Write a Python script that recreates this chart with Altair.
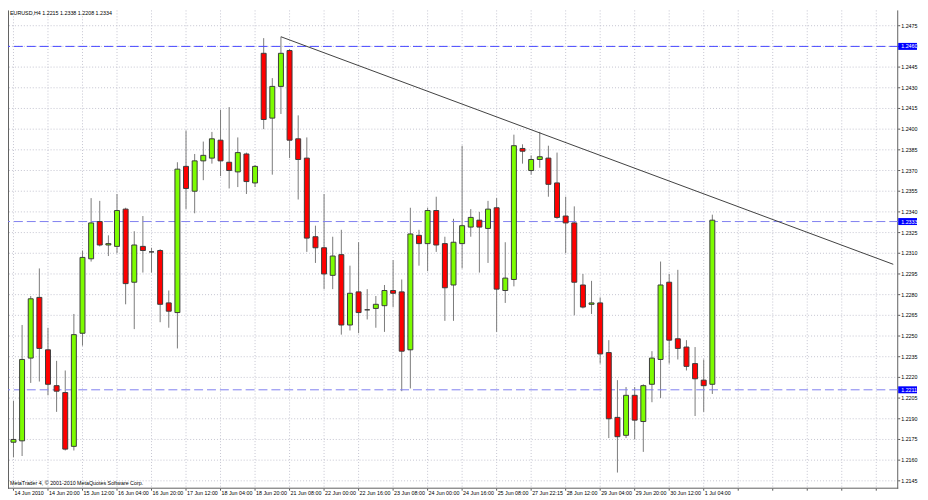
import altair as alt
import pandas as pd

# ---- data (EURUSD H4) ----
opens = [1.2173, 1.2174, 1.2234, 1.2278, 1.2240, 1.2214, 1.2209, 1.2170, 1.2252, 1.2306,
         1.2333, 1.2316, 1.2315, 1.2342, 1.2289, 1.2315, 1.2311, 1.2312, 1.2274, 1.2267,
         1.2373, 1.2355, 1.2377, 1.2379, 1.2392, 1.2376, 1.2369, 1.2382, 1.2361, 1.2455,
         1.2408, 1.2431, 1.2457, 1.2393, 1.2379, 1.2322, 1.2314, 1.2294, 1.2309, 1.2258,
         1.2282, 1.2269, 1.2270, 1.2272, 1.2283, 1.2282, 1.2240, 1.2323, 1.2317, 1.2341,
         1.2317, 1.2287, 1.2317, 1.2329, 1.2334, 1.2328, 1.2343, 1.2283, 1.2291, 1.2386,
         1.2370, 1.2378, 1.2379, 1.2361, 1.2337, 1.2332, 1.2287, 1.2273, 1.2274, 1.2238,
         1.2191, 1.2178, 1.2207, 1.2188, 1.2215, 1.2233, 1.2289, 1.2248, 1.2242, 1.2230,
         1.2218, 1.2215]
highs = [1.2203, 1.2258, 1.2279, 1.2299, 1.2256, 1.2232, 1.2225, 1.2266, 1.2312, 1.2350,
         1.2348, 1.2323, 1.2353, 1.2343, 1.2326, 1.2337, 1.2314, 1.2313, 1.2283, 1.2376,
         1.2399, 1.2382, 1.2391, 1.2398, 1.2414, 1.2416, 1.2394, 1.2383, 1.2374, 1.2466,
         1.2437, 1.2467, 1.2458, 1.2410, 1.2394, 1.2330, 1.2353, 1.2322, 1.2327, 1.2301,
         1.2318, 1.2284, 1.2279, 1.2287, 1.2305, 1.2291, 1.2343, 1.2327, 1.2343, 1.2351,
         1.2322, 1.2335, 1.2388, 1.2342, 1.2340, 1.2348, 1.2350, 1.2318, 1.2396, 1.2389,
         1.2381, 1.2398, 1.2388, 1.2383, 1.2351, 1.2344, 1.2295, 1.2290, 1.2278, 1.2247,
         1.2218, 1.2213, 1.2213, 1.2215, 1.2239, 1.2304, 1.2295, 1.2298, 1.2247, 1.2242,
         1.2233, 1.2338]
lows = [1.2162, 1.2163, 1.2216, 1.2217, 1.2207, 1.2195, 1.2167, 1.2167, 1.2243, 1.2304,
        1.2315, 1.2308, 1.2310, 1.2273, 1.2255, 1.2296, 1.2296, 1.2260, 1.2256, 1.2241,
        1.2342, 1.2339, 1.2363, 1.2375, 1.2366, 1.2357, 1.2358, 1.2353, 1.2358, 1.2400,
        1.2367, 1.2411, 1.2379, 1.2349, 1.2311, 1.2303, 1.2284, 1.2284, 1.2251, 1.2254,
        1.2252, 1.2262, 1.2256, 1.2253, 1.2271, 1.2210, 1.2212, 1.2301, 1.2297, 1.2311,
        1.2261, 1.2261, 1.2299, 1.2322, 1.2296, 1.2303, 1.2253, 1.2274, 1.2286, 1.2375,
        1.2367, 1.2372, 1.2351, 1.2335, 1.2310, 1.2265, 1.2270, 1.2266, 1.2230, 1.2176,
        1.2151, 1.2176, 1.2175, 1.2166, 1.2202, 1.2205, 1.2230, 1.2233, 1.2225, 1.2192,
        1.2195, 1.2208]
closes = [1.2175, 1.2233, 1.2277, 1.2241, 1.2215, 1.2210, 1.2168, 1.2251, 1.2307, 1.2332,
          1.2316, 1.2317, 1.2341, 1.2288, 1.2316, 1.2312, 1.2311, 1.2273, 1.2268, 1.2371,
          1.2357, 1.2377, 1.2381, 1.2393, 1.2377, 1.2370, 1.2383, 1.2362, 1.2373, 1.2407,
          1.2431, 1.2455, 1.2392, 1.2378, 1.2321, 1.2314, 1.2295, 1.2308, 1.2258, 1.2281,
          1.2267, 1.2269, 1.2273, 1.2283, 1.2281, 1.2239, 1.2324, 1.2317, 1.2341, 1.2316,
          1.2285, 1.2318, 1.2330, 1.2336, 1.2329, 1.2342, 1.2284, 1.2292, 1.2388, 1.2384,
          1.2378, 1.2380, 1.2360, 1.2336, 1.2332, 1.2289, 1.2271, 1.2274, 1.2237, 1.2190,
          1.2177, 1.2207, 1.2189, 1.2214, 1.2234, 1.2287, 1.2247, 1.2241, 1.2228, 1.2219,
          1.2214, 1.2334]

x_labels = ["14 Jun 2010", "14 Jun 20:00", "15 Jun 12:00", "16 Jun 04:00", "16 Jun 20:00",
            "17 Jun 12:00", "18 Jun 04:00", "18 Jun 20:00", "21 Jun 08:00", "22 Jun 00:00",
            "22 Jun 16:00", "23 Jun 08:00", "24 Jun 00:00", "24 Jun 16:00", "25 Jun 08:00",
            "27 Jun 22:15", "28 Jun 12:00", "29 Jun 04:00", "29 Jun 20:00", "30 Jun 12:00",
            "1 Jul 04:00"]
x_grid = [0, 4, 8, 12, 16, 20, 24, 28, 32, 36, 40, 44, 48, 52, 56, 60, 64, 68, 72, 76,
          80, 84, 88, 92, 96, 100]
y_ticks = [1.2145, 1.2160, 1.2175, 1.2190, 1.2205, 1.2220, 1.2235, 1.2250, 1.2265, 1.2280,
           1.2295, 1.2310, 1.2325, 1.2340, 1.2355, 1.2370, 1.2385, 1.2400, 1.2415, 1.2430,
           1.2445, 1.2460, 1.2475]

top_level = [1.2460]
other_levels = [1.2333, 1.2211]
h_levels = [1.2460, 1.2333, 1.2211]
h_labels = ["1.2460", "1.2333", "1.2211"]

trend_x = [31, 101.97]
trend_y = [1.2467, 1.2302]

title_text = "EURUSD,H4  1.2215 1.2338 1.2208 1.2334"
footer_text = "MetaTrader 4, \u00a9 2001-2010 MetaQuotes Software Corp."

# ---- layout ----
W, H = 899, 483
FONT = "Liberation Sans"
FS = 5.4
GRID = "#c4c4d0"
FRAME = "#606060"

candles = pd.DataFrame({
    "i": list(range(len(opens))),
    "open": opens, "high": highs, "low": lows, "close": closes,
})
hl = pd.DataFrame({"level": h_levels, "label": h_labels})
trend = pd.DataFrame({"tx": trend_x, "ty": trend_y})
yt = pd.DataFrame({"p": y_ticks, "lab": [f"{v:.4f}" for v in y_ticks]})
xg = pd.DataFrame({"g": x_grid})
xl = pd.DataFrame({"g": x_grid[:len(x_labels)], "lab": x_labels})
one = pd.DataFrame({"k": [0]})

xs = alt.Scale(domain=[-0.06, 101.97], nice=False, zero=False)
ys = alt.Scale(domain=[1.21393, 1.24861], nice=False, zero=False)

# grid (dotted)
grid_h = alt.Chart(yt).mark_rule(color=GRID, strokeDash=[1, 2], strokeWidth=1).encode(
    y=alt.Y("p:Q", scale=ys, axis=None))
grid_v = alt.Chart(xg).mark_rule(color=GRID, strokeDash=[1, 2], strokeWidth=1).encode(
    x=alt.X("g:Q", scale=xs, axis=None))

# chart frame: left, right, bottom
frame_left = alt.Chart(one).mark_rule(color=FRAME, strokeWidth=1).encode(
    x=alt.value(0.5), y=alt.value(0), y2=alt.value(H))
frame_right = alt.Chart(one).mark_rule(color=FRAME, strokeWidth=1).encode(
    x=alt.value(W - 0.5), y=alt.value(0), y2=alt.value(H))
frame_bottom = alt.Chart(one).mark_rule(color=FRAME, strokeWidth=1).encode(
    x=alt.value(0), x2=alt.value(W), y=alt.value(H - 0.5))

# right price scale: ticks + labels
y_tick_marks = alt.Chart(yt).mark_rule(color="#555555", strokeWidth=1).encode(
    y=alt.Y("p:Q", scale=ys, axis=None), x=alt.value(W), x2=alt.value(W + 2))
y_tick_labels = alt.Chart(yt).mark_text(
    align="left", baseline="middle", fontSize=FS, font=FONT, color="#000000",
).encode(y=alt.Y("p:Q", scale=ys, axis=None), x=alt.value(W + 3), text="lab:N")

# bottom time scale: ticks + labels
x_tick_marks = alt.Chart(xg).mark_rule(color="#555555", strokeWidth=1).encode(
    x=alt.X("g:Q", scale=xs, axis=None), y=alt.value(H), y2=alt.value(H + 2))
x_tick_labels = alt.Chart(xl).mark_text(
    align="left", baseline="top", fontSize=FS, font=FONT, color="#000000", dx=1,
).encode(x=alt.X("g:Q", scale=xs, axis=None), y=alt.value(H + 2), text="lab:N")

wicks = alt.Chart(candles).mark_rule(color="#7a7a7a", strokeWidth=1).encode(
    x=alt.X("i:Q", scale=xs, axis=None),
    y=alt.Y("low:Q", scale=ys, axis=None),
    y2="high:Q",
)

bodies = alt.Chart(candles).mark_bar(size=5, stroke="#3c3c3c", strokeWidth=1).encode(
    x=alt.X("i:Q", scale=xs, axis=None),
    y=alt.Y("open:Q", scale=ys, axis=None),
    y2="close:Q",
    color=alt.condition("datum.close >= datum.open",
                        alt.value("#7CFC00"), alt.value("#FF0000")),
)

hline_top = alt.Chart(pd.DataFrame({"level": top_level})).mark_rule(
    strokeDash=[9, 4], strokeWidth=1, stroke="#4646ff",
).encode(y=alt.Y("level:Q", scale=ys, axis=None))

hline_other = alt.Chart(pd.DataFrame({"level": other_levels})).mark_rule(
    strokeDash=[9, 4], strokeWidth=1, stroke="#8080f0",
).encode(y=alt.Y("level:Q", scale=ys, axis=None))

trend_line = alt.Chart(trend).mark_line(color="#404040", strokeWidth=1).encode(
    x=alt.X("tx:Q", scale=xs, axis=None),
    y=alt.Y("ty:Q", scale=ys, axis=None),
)

boxes = alt.Chart(hl).mark_point(
    shape="M-1,-0.37L1,-0.37L1,0.37L-1,0.37Z", size=361, filled=True,
    color="#0000ff", opacity=1,
).encode(
    x=alt.value(W + 9.5),
    y=alt.Y("level:Q", scale=ys, axis=None),
)

box_text = alt.Chart(hl).mark_text(
    color="#ffffff", align="left", baseline="middle", fontSize=FS, font=FONT,
).encode(
    x=alt.value(W + 3),
    y=alt.Y("level:Q", scale=ys, axis=None),
    text="label:N",
)

title_mark = alt.Chart(pd.DataFrame({"t": [title_text]})).mark_text(
    align="left", baseline="top", fontSize=FS, font=FONT, color="#000000",
).encode(x=alt.value(2), y=alt.value(1), text="t:N")

footer_mark = alt.Chart(pd.DataFrame({"t": [footer_text]})).mark_text(
    align="left", baseline="middle", fontSize=FS, font=FONT, color="#000000",
).encode(x=alt.value(2), y=alt.value(H - 6), text="t:N")

chart = alt.layer(
    grid_h, grid_v, frame_left, frame_right, frame_bottom,
    y_tick_marks, y_tick_labels, x_tick_marks, x_tick_labels,
    wicks, hline_top, hline_other, bodies, trend_line, boxes, box_text,
    title_mark, footer_mark,
).properties(
    width=W, height=H,
    padding={"left": 0, "top": 0, "right": 22, "bottom": 10},
    autosize=alt.AutoSizeParams(type="none"),
    background="#ffffff",
).configure_view(
    strokeWidth=0,
)

chart.save("out.html", embed_options={"renderer": "svg", "actions": False})
